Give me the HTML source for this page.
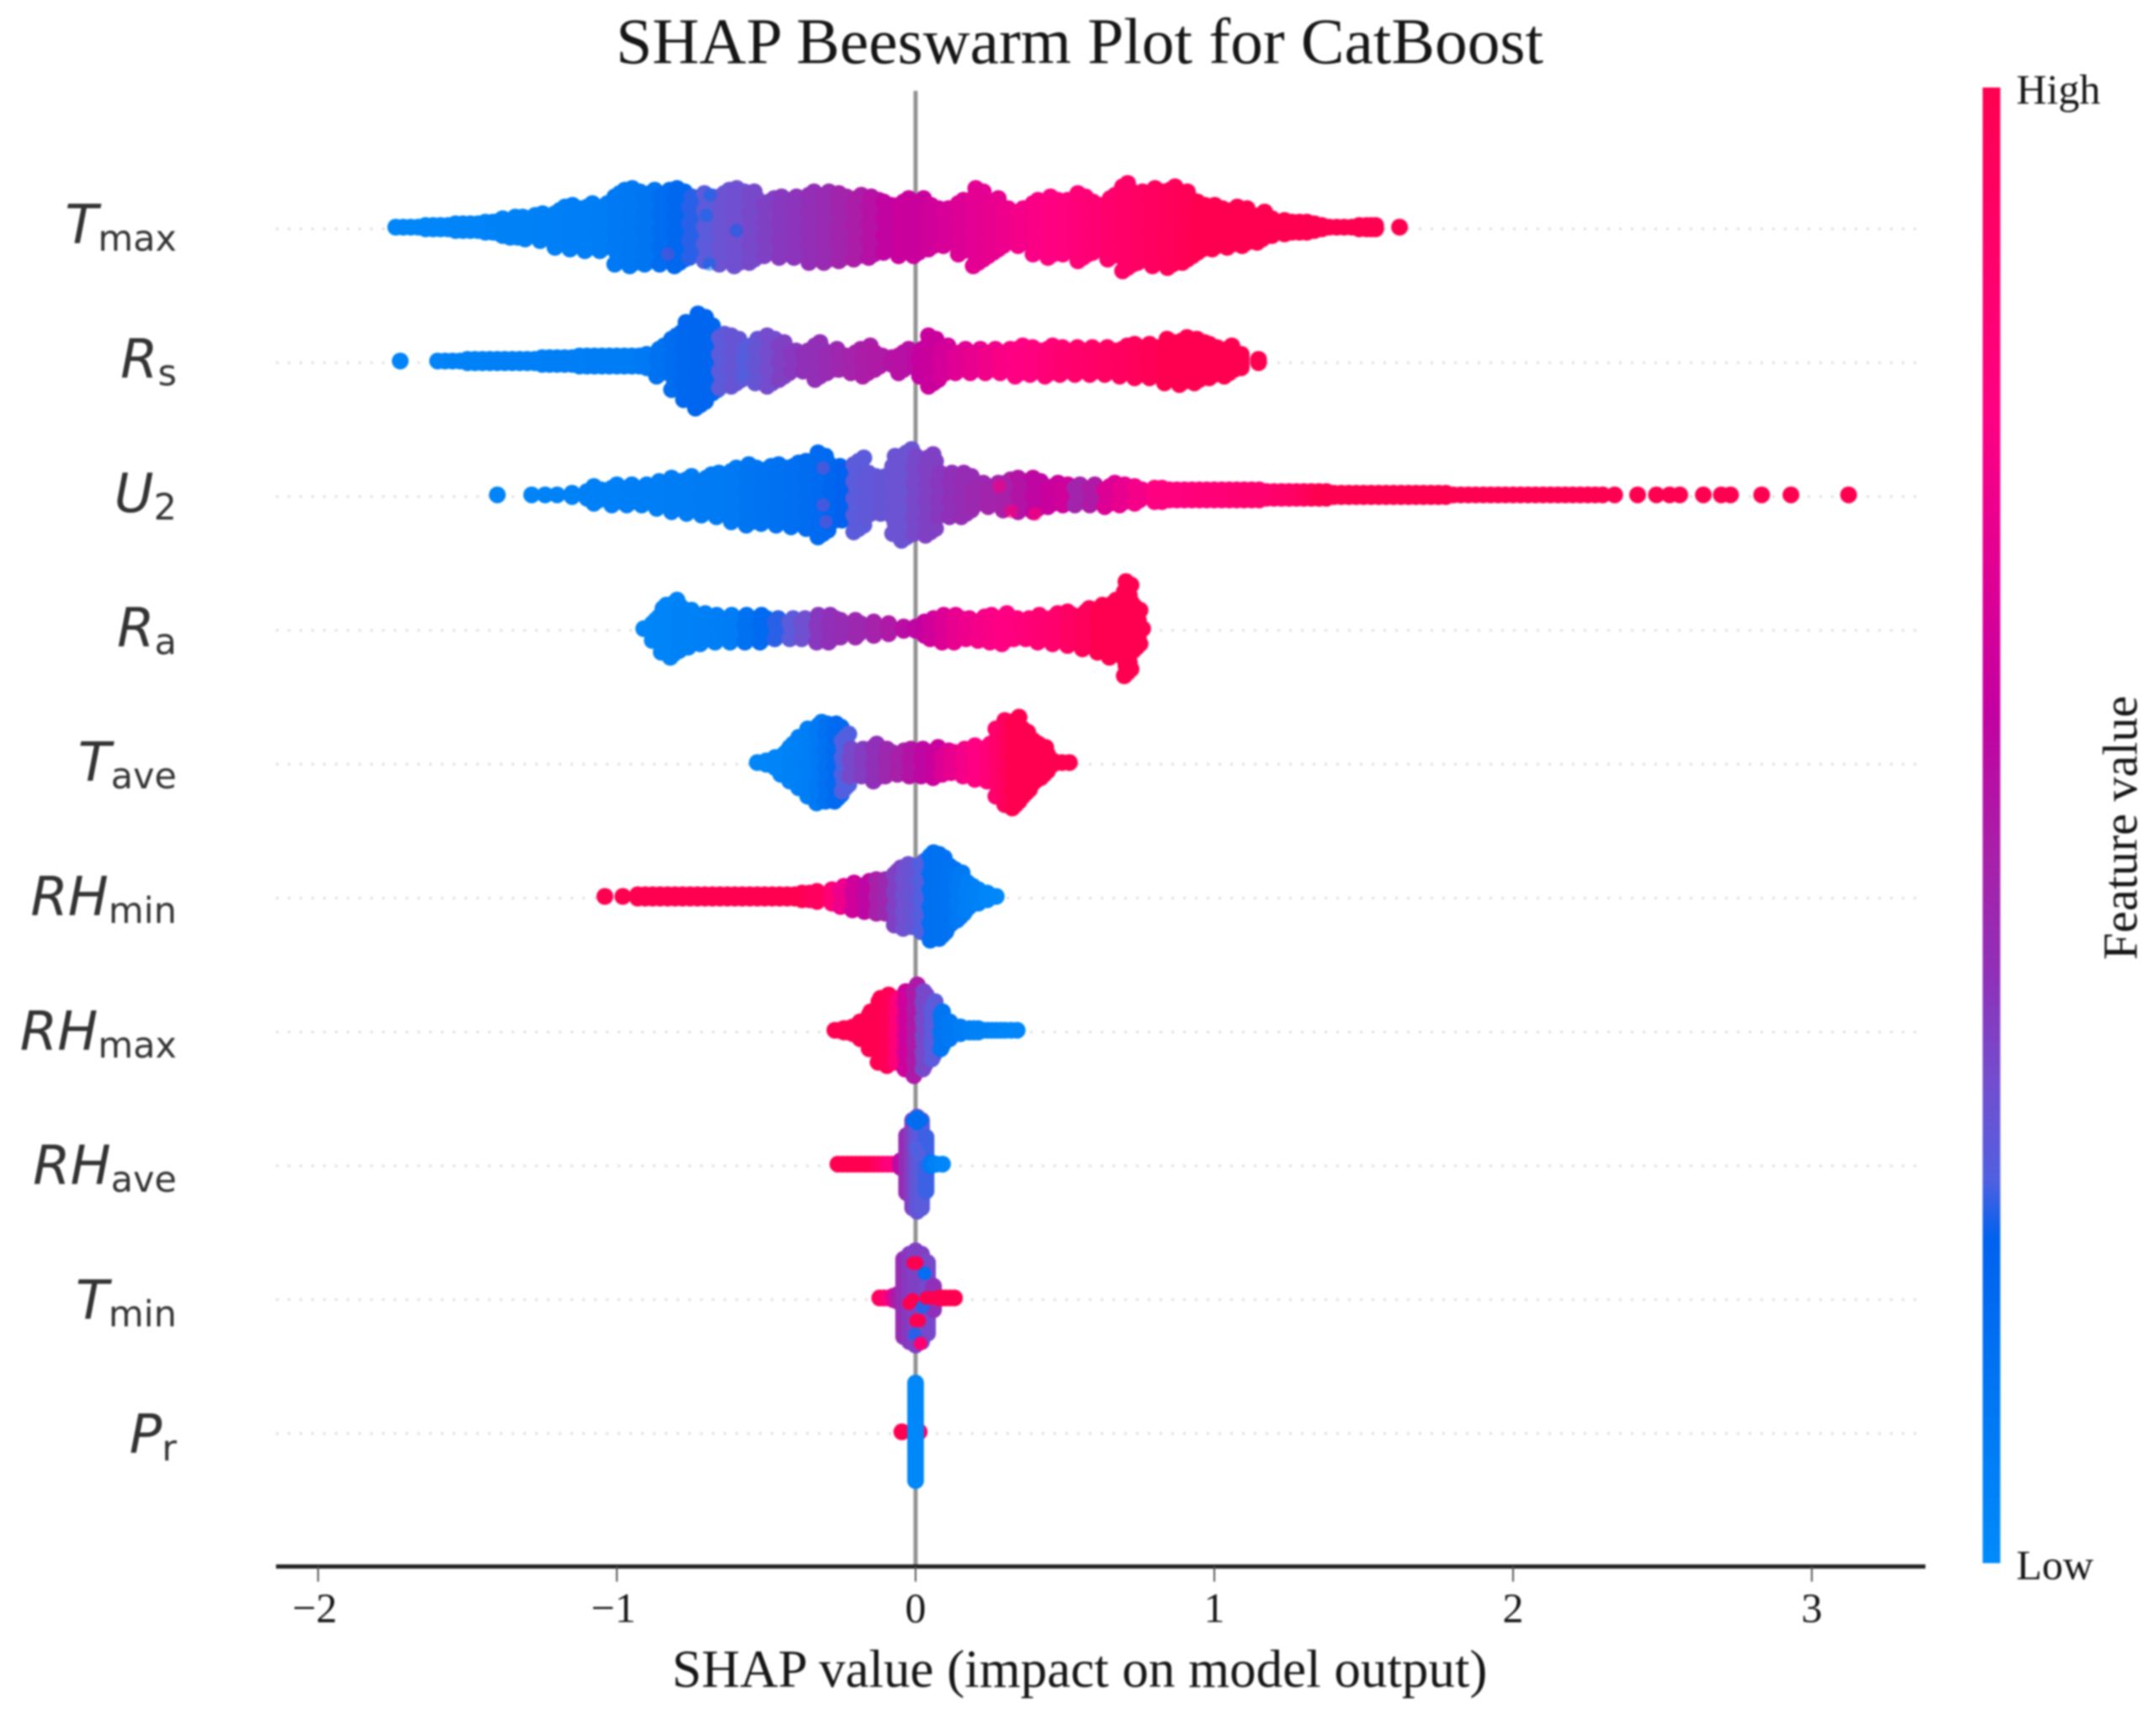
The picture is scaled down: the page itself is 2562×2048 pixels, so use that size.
<!DOCTYPE html>
<html lang="en">
<head>
<meta charset="utf-8">
<title>SHAP Beeswarm Plot for CatBoost</title>
<style>
html,body{margin:0;padding:0;background:#fff;width:2562px;height:2048px;overflow:hidden}
svg{display:block;filter:blur(1px)}
.serif{font-family:"Liberation Serif",serif;fill:#161616}
.ylab{font-family:"DejaVu Sans",sans-serif;fill:#333}
</style>
</head>
<body>
<svg id="chart" xmlns="http://www.w3.org/2000/svg" width="2562" height="2048" viewBox="0 0 2562 2048">
  <rect width="2562" height="2048" fill="#fff"/>
  <defs><linearGradient id="cbar" x1="0" y1="1" x2="0" y2="0"></linearGradient></defs>
  <g id="gridLayer"></g>
  <line id="zeroLine" stroke="#939393" stroke-width="5"/>
  <g id="dotLayer"></g>
  <g id="yLabelLayer"></g>
  <line id="xAxis" stroke="#222" stroke-width="5"/>
  <g id="tickLayer"></g>
  <text class="serif" x="1283" y="75" font-size="77.4" text-anchor="middle">SHAP Beeswarm Plot for CatBoost</text>
  <text class="serif" x="1283" y="2005" font-size="63" text-anchor="middle">SHAP value (impact on model output)</text>
  <rect x="2356" y="104" width="21" height="1754" fill="url(#cbar)"/>
  <text class="serif" x="2396" y="123" font-size="50">High</text>
  <text class="serif" x="2396" y="1877" font-size="50">Low</text>
  <text class="serif" x="0" y="0" font-size="58" text-anchor="middle" transform="translate(2539 984) rotate(-90)">Feature value</text>
</svg>
<script>
const featureBases=['T','R','U','R','T','RH','RH','RH','T','P'];
const featureSubs=['max','s','2','a','ave','min','max','ave','min','r'];
const xTickValues=[-2,-1,0,1,2,3];
const xTickLabels=['\u22122','\u22121','0','1','2','3'];

const tmaxShap=[-1.74,-1.715,-1.69,-1.665,-1.64,-1.615,-1.59,-1.565,-1.54,-1.515,-1.49,-1.465,-1.44,-1.415,-1.39,-1.365,-1.34,-1.315,-1.29,-1.24,-1.19,-1.14,-1.09,-1.04,-.99,-.94,-.89,-.84,-.79,-.74,-.69,-.64,-.59,-.54,-.49,-.44,-.39,-.34,-.29,-.24,-.19,-.14,-.09,-.04,.01,.06,.11,.16,.21,.26,.31,.36,.41,.46,.51,.56,.61,.66,.71,.76,.81,.86,.91,.96,1.01,1.06,1.11,1.16,1.21,1.235,1.26,1.285,1.31,1.335,1.36,1.385,1.41,1.435,1.46,1.485,1.51,1.525,1.54,1.62];
const tmaxCount=[1,1,1,1,2,2,2,2,3,3,3,3,4,4,5,6,7,7,8,9,13,14,15,15,23,24,23,23,24,19,21,23,24,22,18,19,19,22,22,21,20,19,16,18,18,14,12,17,24,18,12,12,17,19,17,21,16,20,27,22,24,25,22,16,14,13,12,10,6,5,4,4,4,3,2,1,1,1,1,2,2,2,2,1];
const tmaxFeature=[.03,.03,.03,.03,.03,.03,.03,.03,.04,.04,.04,.04,.04,.05,.05,.05,.05,.05,.05,.06,.06,.07,.07,.08,.10,.11,.12,.16,.19,.24,.28,.31,.32,.34,.36,.38,.39,.41,.43,.46,.49,.53,.57,.6,.6,.62,.64,.66,.68,.7,.72,.74,.76,.78,.8,.82,.85,.88,.9,.92,.94,.96,.98,1,1,1,1,1,1,1,1,1,1,1,1,1,1,1,1,1,1,1,1,1];
const tmaxExtraShap=[-.687,-.70,-.69,-.83,-.60];
const tmaxExtraRank=[9.6,3.5,-11,-8,-1];
const tmaxExtraFeature=[.16,.16,.16,.34,.2];

const rsShap=[-1.725,-1.60,-1.575,-1.55,-1.525,-1.50,-1.475,-1.45,-1.425,-1.40,-1.375,-1.35,-1.325,-1.30,-1.275,-1.25,-1.225,-1.20,-1.175,-1.15,-1.125,-1.10,-1.075,-1.05,-1.025,-1.00,-.975,-.95,-.925,-.90,-.85,-.80,-.76,-.72,-.68,-.64,-.60,-.56,-.52,-.48,-.44,-.40,-.36,-.32,-.28,-.24,-.20,-.16,-.12,-.08,-.04,0,.03,.06,.10,.15,.20,.25,.30,.35,.40,.45,.50,.55,.60,.65,.70,.75,.80,.85,.90,.95,1.00,1.05,1.09,1.148];
const rsCount=[1,1,1,1,1,2,2,2,2,2,2,2,2,2,2,3,3,3,3,3,4,4,4,4,4,4,4,4,4,5,10,18,24,29,22,17,16,10,14,16,12,7,7,12,8,6,8,10,6,3,8,5,10,16,10,8,8,8,8,10,9,10,9,9,9,9,10,11,11,14,15,14,11,10,5,2];
const rsFeature=[.04,.04,.04,.05,.05,.05,.05,.05,.06,.06,.06,.06,.06,.06,.06,.06,.07,.07,.07,.07,.07,.07,.08,.08,.08,.08,.08,.08,.09,.1,.14,.17,.19,.2,.2,.28,.3,.27,.3,.33,.36,.38,.4,.41,.43,.45,.47,.49,.5,.52,.53,.55,.58,.6,.63,.67,.7,.73,.76,.78,.8,.83,.86,.88,.9,.92,.94,.96,.98,1,1,1,1,1,1,1];

const u2Shap=[-1.40,-1.285,-1.24,-1.20,-1.15,-1.10,-1.06,-1.00,-.95,-.90,-.85,-.80,-.75,-.70,-.65,-.60,-.55,-.50,-.45,-.40,-.35,-.31,-.27,-.23,-.19,-.15,-.10,-.06,-.03,.01,.05,.09,.13,.17,.21,.26,.31,.36,.41,.46,.51,.55,.60,.65,.70,.75,.80,.825,.85,.875,.90,.925,.95,.975,1.00,1.025,1.05,1.075,1.10,1.125,1.15,1.175,1.20,1.225,1.25,1.275,1.30,1.325,1.35,1.375,1.40,1.425,1.45,1.475,1.50,1.525,1.55,1.575,1.60,1.625,1.65,1.675,1.70,1.725,1.75,1.775,1.80,1.825,1.85,1.875,1.90,1.925,1.95,1.975,2.00,2.025,2.05,2.075,2.10,2.125,2.15,2.175,2.20,2.225,2.25,2.275,2.30,2.34,2.417,2.48,2.524,2.558,2.637,2.697,2.728,2.832,2.93,3.123];
const u2Count=[1,1,1,1,2,3,6,7,7,7,9,11,12,13,14,17,19,18,19,20,21,26,18,16,23,14,12,24,28,24,25,14,14,14,8,8,10,11,11,8,7,7,7,8,7,6,5,5,4,4,4,4,4,4,4,4,4,4,4,4,4,3,3,3,3,3,3,3,3,3,2,2,2,2,2,2,2,2,2,2,2,2,2,2,2,2,1,1,1,1,1,1,1,1,1,1,1,1,1,1,1,1,1,1,1,1,1,1,1,1,1,1,1,1,1,1,1,1];
const u2Feature=[.04,.04,.05,.05,.05,.06,.06,.06,.07,.07,.07,.08,.08,.09,.09,.10,.12,.13,.14,.15,.16,.18,.2,.22,.28,.29,.3,.31,.31,.34,.36,.38,.4,.42,.44,.46,.48,.52,.56,.6,.62,.46,.5,.66,.7,.74,.78,.79,.8,.8,.8,.81,.82,.82,.83,.83,.84,.85,.86,.86,.86,.87,.88,.89,.9,.92,.94,.97,1,1,1,1,1,1,1,1,1,1,1,1,1,1,1,1,1,1,1,1,1,1,1,1,1,1,1,1,1,1,1,1,1,1,1,1,1,1,1,1,1,1,1,1,1,1,1,1,1,1];
const u2ExtraShap=[.28,.32,.40,-.31,-.31,-.30];
const u2ExtraRank=[2.6,-4.9,-5.7,8,-3,-8];
const u2ExtraFeature=[.76,.82,.84,.32,.32,.32];

const raShap=[-.91,-.87,-.84,-.81,-.78,-.75,-.71,-.66,-.61,-.56,-.51,-.46,-.41,-.37,-.32,-.28,-.24,-.19,-.14,-.09,-.04,0,.03,.06,.10,.14,.18,.22,.26,.30,.34,.38,.42,.47,.52,.57,.62,.66,.71,.74,.76];
const raCount=[1,8,15,18,14,12,10,9,9,9,9,7,7,7,9,9,6,6,5,4,2,2,5,7,9,9,7,8,9,10,7,7,9,10,11,13,15,18,29,14,1];
const raFeature=[.03,.03,.04,.04,.05,.05,.06,.07,.08,.14,.18,.24,.28,.32,.38,.4,.42,.44,.47,.5,.54,.56,.58,.62,.66,.7,.72,.74,.76,.78,.8,.82,.85,.88,.92,.96,1,1,1,1,1];

const taveShap=[-.53,-.50,-.47,-.44,-.41,-.38,-.35,-.32,-.29,-.26,-.235,-.21,-.17,-.13,-.09,-.05,-.01,.03,.07,.10,.13,.17,.21,.25,.28,.31,.335,.37,.40,.43,.46,.49,.515];
const taveCount=[1,2,4,8,12,16,21,25,24,24,18,9,9,12,9,8,9,9,10,8,7,9,11,12,21,26,28,21,14,10,2,1,1];
const taveFeature=[.03,.03,.04,.04,.05,.06,.07,.1,.14,.18,.26,.34,.37,.4,.44,.48,.52,.56,.6,.66,.7,.74,.78,.82,.88,.94,1,1,1,1,1,1,1];

const rhminShap=[-1.04,-.98,-.93,-.905,-.88,-.855,-.83,-.805,-.78,-.755,-.73,-.705,-.68,-.655,-.63,-.605,-.58,-.555,-.53,-.505,-.48,-.455,-.43,-.405,-.38,-.355,-.33,-.28,-.24,-.20,-.16,-.12,-.09,-.06,-.03,0,.03,.06,.09,.12,.15,.18,.21,.24,.27];
const rhminCount=[1,1,2,2,2,2,2,2,2,2,2,2,2,2,2,2,2,2,2,2,2,2,2,2,3,3,4,5,7,9,10,11,11,18,20,19,22,27,26,19,15,9,5,3,1];
const rhminFeature=[1,1,1,1,1,1,1,1,1,1,1,1,1,1,1,1,1,1,1,1,1,1,1,1,1,.97,.94,.84,.72,.62,.56,.48,.44,.36,.32,.3,.26,.15,.14,.13,.1,.07,.05,.03,.02];

const rhmaxShap=[-.27,-.255,-.24,-.225,-.21,-.195,-.18,-.15,-.12,-.09,-.06,-.03,0,.03,.06,.09,.12,.15,.18,.195,.21,.225,.24,.255,.27,.285,.30,.32,.34];
const rhmaxCount=[1,1,2,2,3,4,6,12,20,22,20,24,28,24,18,12,6,3,2,2,2,1,1,1,1,1,1,1,1];
const rhmaxFeature=[1,1,1,1,1,1,1,1,1,.98,.82,.62,.5,.34,.28,.12,.1,.08,.06,.06,.05,.05,.05,.05,.04,.04,.03,.03,.03];

const rhaveShap=[-.26,-.245,-.23,-.215,-.20,-.185,-.17,-.155,-.14,-.125,-.11,-.095,-.08,-.05,-.03,-.01,.005,.02,.035,.05,.07,.09];
const rhaveCount=[1,1,1,1,1,1,1,1,1,1,1,1,1,3,18,27,29,27,17,2,1,1];
const rhaveFeature=[1,1,1,1,1,1,1,1,1,.95,.9,.85,.8,.55,.42,.36,.3,.28,.25,.1,.05,.03];
const rhaveExtraShap=[-.01,.005,.02,.005,0,.012];
const rhaveExtraRank=[13,14,13,12,5,3];
const rhaveExtraFeature=[.16,.16,.16,.16,.26,.26];

const tminShap=[-.12,-.105,-.09,-.075,-.06,-.04,-.02,0,.02,.04,.06,.08,.09,.10,.115,.13];
const tminCount=[1,1,1,2,3,24,27,29,27,22,8,1,1,1,1,1];
const tminFeature=[.95,.9,.85,.7,.5,.42,.38,.36,.36,.34,.4,1,1,1,1,1];
const tminExtraShap=[-.008,.004,-.022,-.01,.001,.012,.03,.024,-.003,.016,.035,.05,.065];
const tminExtraRank=[10.4,10.4,-1.6,-.5,-6.7,-6.7,7.3,-2.6,-10.9,-13.5,0,0,0];
const tminExtraFeature=[1,1,1,1,1,1,.15,.24,.24,.85,1,1,1];

const prShap=[-.046,.012,0];
const prCount=[1,1,30];
const prFeature=[1,.9,.02];

const colorStopValues=[0,.12,.22,.26,.32,.40,.48,.58,.67,.78,.90,1];
const colorStopColors=['#008bfb','#0075f2','#0062ee','#5060e0','#7050d0','#9030b8','#a820a8','#c400a0','#e00094','#ff0082','#ff0068','#ff0051'];

const NS='http://www.w3.org/2000/svg';
const xScale=v=>1088+355*v;
const rowY=i=>270+159.1*i;
const DOT_R=10,STACK_STEP=4,EXTRA_R=8;
const hex=c=>[1,3,5].map(k=>parseInt(c.substr(k,2),16));
function colorOf(f){
  const t=Math.max(0,Math.min(1,f));
  let k=0;
  while(k<colorStopValues.length-2&&t>colorStopValues[k+1])k++;
  const a=hex(colorStopColors[k]),b=hex(colorStopColors[k+1]);
  const u=(t-colorStopValues[k])/(colorStopValues[k+1]-colorStopValues[k]);
  return 'rgb('+a.map((c,j)=>Math.round(c+(b[j]-c)*u)).join(',')+')';
}
const grad=document.getElementById('cbar');
colorStopValues.forEach((v,i)=>{
  const s=document.createElementNS(NS,'stop');
  s.setAttribute('offset',v);
  s.setAttribute('stop-color',colorStopColors[i]);
  grad.appendChild(s);
});
const rows=[
  {shap:tmaxShap,count:tmaxCount,fv:tmaxFeature,xs:tmaxExtraShap,xr:tmaxExtraRank,xf:tmaxExtraFeature,spread:3,extraAlpha:.5},
  {shap:rsShap,count:rsCount,fv:rsFeature,xs:[],xr:[],xf:[],spread:3,extraAlpha:1},
  {shap:u2Shap,count:u2Count,fv:u2Feature,xs:u2ExtraShap,xr:u2ExtraRank,xf:u2ExtraFeature,spread:3,extraAlpha:.6},
  {shap:raShap,count:raCount,fv:raFeature,xs:[],xr:[],xf:[],spread:2,extraAlpha:1},
  {shap:taveShap,count:taveCount,fv:taveFeature,xs:[],xr:[],xf:[],spread:2,extraAlpha:1},
  {shap:rhminShap,count:rhminCount,fv:rhminFeature,xs:[],xr:[],xf:[],spread:2,extraAlpha:1},
  {shap:rhmaxShap,count:rhmaxCount,fv:rhmaxFeature,xs:[],xr:[],xf:[],spread:1,extraAlpha:1},
  {shap:rhaveShap,count:rhaveCount,fv:rhaveFeature,xs:rhaveExtraShap,xr:rhaveExtraRank,xf:rhaveExtraFeature,spread:0,extraAlpha:1},
  {shap:tminShap,count:tminCount,fv:tminFeature,xs:tminExtraShap,xr:tminExtraRank,xf:tminExtraFeature,spread:0,extraAlpha:1},
  {shap:prShap,count:prCount,fv:prFeature,xs:[],xr:[],xf:[],spread:0,extraAlpha:1}
];
const dotLayer=document.getElementById('dotLayer');
const gridLayer=document.getElementById('gridLayer');
const yLabelLayer=document.getElementById('yLabelLayer');
const tickLayer=document.getElementById('tickLayer');
const addDot=(g,x,y,r,f,alpha)=>{
  const c=document.createElementNS(NS,'circle');
  
  
  c.setAttribute('cx',x.toFixed(1));
  c.setAttribute('cy',y.toFixed(1));
  c.setAttribute('r',r);
  c.setAttribute('fill',colorOf(f));
  c.setAttribute('fill-opacity',alpha);
  g.appendChild(c);
};
rows.forEach((row,i)=>{
  const y=rowY(i);
  const guide=document.createElementNS(NS,'line');
  
  
  guide.setAttribute('x1',328);
  guide.setAttribute('x2',2277);
  guide.setAttribute('y1',y+2);
  guide.setAttribute('y2',y+2);
  guide.setAttribute('stroke','#dedede');
  guide.setAttribute('stroke-width',3);
  guide.setAttribute('stroke-dasharray','3 11');
  gridLayer.appendChild(guide);

  const g=document.createElementNS(NS,'g');
  
  
  dotLayer.appendChild(g);
  row.shap.forEach((v,b)=>{
    const n=row.count[b];
    for(let k=0;k<n;k++){
      const dx=n>=6?((k*7)%5-2)*row.spread:0;
      addDot(g,xScale(v)+dx,y-(k-(n-1)/2)*STACK_STEP,DOT_R,row.fv[b],1);
    }
  });
  row.xs.forEach((v,b)=>{
    addDot(g,xScale(v),y-row.xr[b]*STACK_STEP,EXTRA_R,row.xf[b],row.extraAlpha);
  });

  const t=document.createElementNS(NS,'text');
  
  
  t.setAttribute('class','ylab');
  t.setAttribute('x',210);
  t.setAttribute('y',y+19+i*0.7);
  t.setAttribute('text-anchor','end');
  t.setAttribute('font-size',64);
  const base=document.createElementNS(NS,'tspan');
  base.setAttribute('font-style','italic');
  base.textContent=featureBases[i];
  const sub=document.createElementNS(NS,'tspan');
  sub.setAttribute('font-size',43);
  sub.setAttribute('dy',9);
  sub.textContent=featureSubs[i];
  t.appendChild(base);
  t.appendChild(sub);
  yLabelLayer.appendChild(t);
});
const zero=document.getElementById('zeroLine');
zero.setAttribute('x1',xScale(0));
zero.setAttribute('x2',xScale(0));
zero.setAttribute('y1',108);
zero.setAttribute('y2',1862);
const axis=document.getElementById('xAxis');
axis.setAttribute('x1',328);
axis.setAttribute('x2',2288);
axis.setAttribute('y1',1862);
axis.setAttribute('y2',1862);
xTickValues.forEach((v,i)=>{
  const tick=document.createElementNS(NS,'line');
  
  
  tick.setAttribute('x1',xScale(v));
  tick.setAttribute('x2',xScale(v));
  tick.setAttribute('y1',1862);
  tick.setAttribute('y2',1880);
  tick.setAttribute('stroke','#555');
  tick.setAttribute('stroke-width',2);
  tickLayer.appendChild(tick);
  const lab=document.createElementNS(NS,'text');
  
  
  lab.setAttribute('class','serif');
  lab.setAttribute('x',xScale(v)-(v<0?4:0));
  lab.setAttribute('y',1928);
  lab.setAttribute('font-size',50);
  lab.setAttribute('text-anchor','middle');
  lab.textContent=xTickLabels[i];
  tickLayer.appendChild(lab);
});
</script>
</body>
</html>
